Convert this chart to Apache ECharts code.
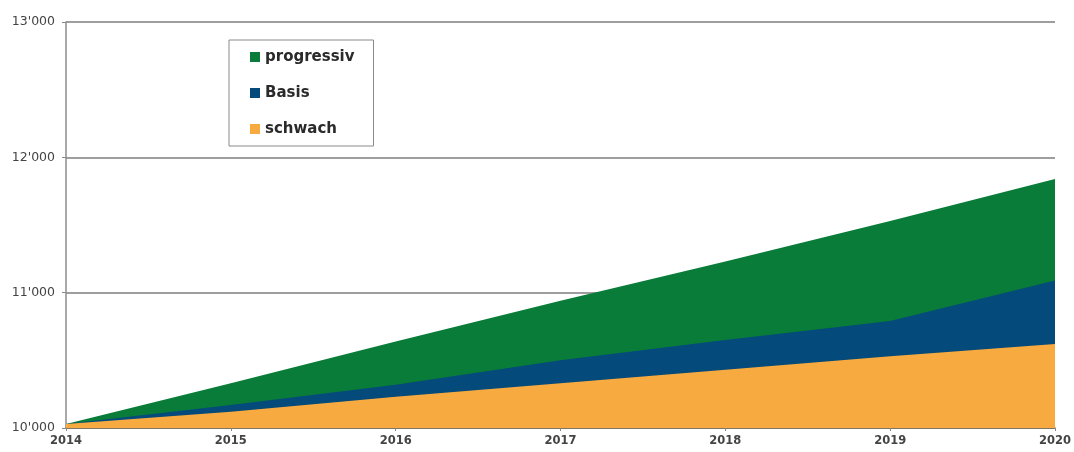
<!DOCTYPE html>
<html>
<head>
<meta charset="utf-8">
<style>
  html, body { margin: 0; padding: 0; background: #fff; }
  #chart { width: 1074px; height: 452px; }
</style>
<script src="https://cdn.jsdelivr.net/npm/echarts@6/dist/echarts.min.js"></script>
</head>
<body>
<div id="chart"></div>
<script>
// Jahre der Prognose
const years = ['2014', '2015', '2016', '2017', '2018', '2019', '2020'];

// Szenarien (absolute Werte)
const progressiv = [10030, 10330, 10640, 10940, 11230, 11530, 11840];
const basis      = [10030, 10170, 10320, 10500, 10650, 10790, 11090];
const schwach    = [10030, 10120, 10230, 10330, 10430, 10530, 10620];

const seriesNames = ['progressiv', 'Basis', 'schwach'];
const seriesColors = ['#087c38', '#044a7a', '#f7aa3f'];

const yTicks = { min: 10000, max: 13000, interval: 1000 };

function fmtThousands(v) {
  return String(v).replace(/\B(?=(\d{3})+(?!\d))/g, "'");
}

const FONT = 'DejaVu Sans, Verdana, sans-serif';

const chart = echarts.init(document.getElementById('chart'), null, { renderer: 'canvas' });

const seriesData = [progressiv, basis, schwach];

chart.setOption({
  animation: false,
  backgroundColor: '#ffffff',
  grid: { left: 66, right: 18, top: 22, bottom: 24, containLabel: false },
  legend: {
    data: seriesNames,
    orient: 'vertical',
    left: 229,
    top: 40,
    itemWidth: 10,
    itemHeight: 10,
    itemGap: 20,
    padding: [9, 19, 9, 21],
    borderColor: '#8a8a8a',
    borderWidth: 1,
    icon: 'rect',
    textStyle: { fontFamily: FONT, fontSize: 15, fontWeight: 'bold', lineHeight: 16, color: '#2a2a2a' }
  },
  xAxis: {
    type: 'category',
    data: years,
    boundaryGap: false,
    axisLine: { lineStyle: { color: '#7a6a50', width: 1.5 } },
    axisTick: { show: true, length: 3, lineStyle: { color: '#888' } },
    axisLabel: {
      fontFamily: FONT,
      fontSize: 11.5,
      fontWeight: 'bold',
      color: '#444',
      margin: 7
    },
    splitLine: { show: false }
  },
  yAxis: {
    type: 'value',
    min: yTicks.min,
    max: yTicks.max,
    interval: yTicks.interval,
    axisLine: { show: true, lineStyle: { color: '#8c8c8c', width: 1.5 } },
    axisTick: { show: true, length: 4, lineStyle: { color: '#8c8c8c' } },
    axisLabel: {
      fontFamily: FONT,
      fontSize: 12.5,
      color: '#444',
      margin: 11,
      formatter: fmtThousands
    },
    splitLine: { show: true, lineStyle: { color: '#9e9e9e', width: 2 } }
  },
  series: seriesNames.map((name, i) => ({
    name: name,
    type: 'line',
    data: seriesData[i],
    symbol: 'none',
    z: 2 + i,
    lineStyle: { width: 0, color: seriesColors[i] },
    itemStyle: { color: seriesColors[i] },
    areaStyle: { color: seriesColors[i], opacity: 1, origin: 'start' }
  }))
});
</script>
</body>
</html>
